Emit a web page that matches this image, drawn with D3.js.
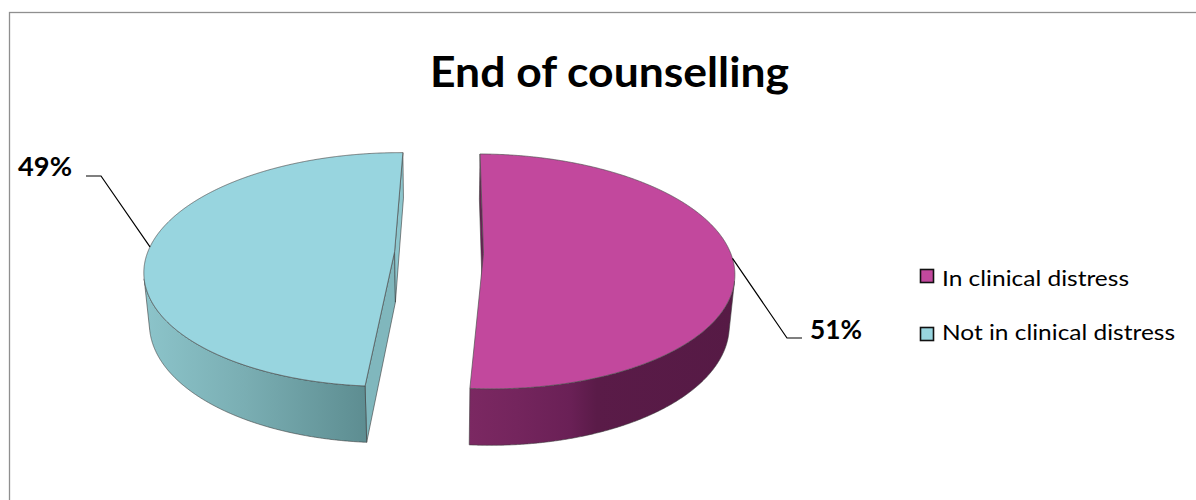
<!DOCTYPE html>
<html>
<head>
<meta charset="utf-8">
<script src="https://cdn.jsdelivr.net/npm/d3@7"></script>
<style>
  html, body { margin: 0; padding: 0; background: #fff; }
  svg { display: block; font-family: Lato, "Open Sans", sans-serif; }
</style>
</head>
<body>
<svg id="chart" width="1196" height="500"></svg>
<script>
// ---- data ----
const title = "End of counselling";
const categories = ["In clinical distress", "Not in clinical distress"];
const values = [51, 49];
const valueLabels = ["51%", "49%"];

// ---- styling ----
const topColors = ["#C2489D", "#98D5DF"];
const wallStops = [
  [[0, "#7B2862"], [0.18, "#74255D"], [0.38, "#6A2056"], [0.48, "#5A1B48"], [1, "#561A45"]],
  [[0, "#8CC4CA"], [0.45, "#7AAEB3"], [1, "#5D8D91"]]
];
const startFaceColors = ["#6B2056", "#80B7BD"];
const endFaceColors = ["#7A2862", "#8DC6CD"];

// 3D pie view: elevated camera with perspective
const view = {
  cx: 439, cy: 252.6,
  R: 247, thick: 58, explode: 44.5,
  elev: 27.6 * Math.PI / 180,
  dist: 1436,
  rot: 0.65 * Math.PI / 180
};
const ce = Math.cos(view.elev), se = Math.sin(view.elev);
const cam = [0, view.dist * ce, view.dist * se];

function project(p) {
  const d = view.dist - (p[1] * ce + p[2] * se);
  const s = view.dist / d;
  const up = -p[1] * se + p[2] * ce;
  return [view.cx + p[0] * s, view.cy - up * s];
}
function facing(n, p) {
  return n[0] * (cam[0] - p[0]) + n[1] * (cam[1] - p[1]) + n[2] * (cam[2] - p[2]) > 0;
}

const svg = d3.select("#chart");
const defs = svg.append("defs");
const line = d3.line();

// chart frame
svg.append("rect")
  .attr("x", 9.5).attr("y", 12.5)
  .attr("width", 1200).attr("height", 500)
  .attr("fill", "none").attr("stroke", "#8f8f8f").attr("stroke-width", 1.3);

// title
svg.append("text")
  .attr("x", 430).attr("y", 87)
  .attr("font-weight", 700).attr("font-size", 42)
  .attr("textLength", 359).attr("lengthAdjust", "spacingAndGlyphs")
  .attr("fill", "#000")
  .text(title);

const pie = d3.pie().sort(null).value(d => d)
  .startAngle(view.rot).endAngle(view.rot + 2 * Math.PI);
const arcs = pie(values);

const sideLayer = svg.append("g");
const topLayer = svg.append("g");
const D = view.thick;

arcs.forEach((a, i) => {
  const mid = (a.startAngle + a.endAngle) / 2;
  const ox = view.explode * Math.sin(mid), oy = -view.explode * Math.cos(mid);
  const rim = (t, z) => [ox + view.R * Math.sin(t), oy - view.R * Math.cos(t), z];
  const ctr = z => [ox, oy, z];

  // radial cut faces
  const faces = [
    { t: a.startAngle, n: [-Math.cos(a.startAngle), -Math.sin(a.startAngle), 0], c: startFaceColors[i] },
    { t: a.endAngle, n: [Math.cos(a.endAngle), Math.sin(a.endAngle), 0], c: endFaceColors[i] }
  ];
  faces.forEach(f => {
    const pts = [ctr(0), rim(f.t, 0), rim(f.t, -D), ctr(-D)];
    const c = [(pts[0][0] + pts[1][0]) / 2, (pts[0][1] + pts[1][1]) / 2, -D / 2];
    if (!facing(f.n, c)) return;
    sideLayer.append("path")
      .attr("d", line(pts.map(project)) + "Z")
      .attr("fill", f.c).attr("stroke", "#3c3c3c").attr("stroke-width", 0.6)
      .attr("stroke-linejoin", "round");
  });

  // outer wall: keep the camera-facing angular runs
  const steps = 720;
  const runs = [];
  let cur = null;
  for (let k = 0; k <= steps; k++) {
    const t = a.startAngle + (a.endAngle - a.startAngle) * k / steps;
    const n = [Math.sin(t), -Math.cos(t), 0];
    const vis = facing(n, rim(t, -D / 2));
    if (vis) { if (!cur) { cur = []; runs.push(cur); } cur.push(t); }
    else cur = null;
  }
  runs.forEach((run, r) => {
    const topPts = run.map(t => project(rim(t, 0)));
    const botPts = run.slice().reverse().map(t => project(rim(t, -D)));
    const all = topPts.concat(botPts);
    const xs = d3.extent(all, p => p[0]);
    const gid = `wall-${i}-${r}`;
    const g = defs.append("linearGradient").attr("id", gid)
      .attr("gradientUnits", "userSpaceOnUse")
      .attr("x1", xs[0]).attr("x2", xs[1]).attr("y1", 0).attr("y2", 0);
    wallStops[i].forEach(s => g.append("stop").attr("offset", s[0]).attr("stop-color", s[1]));
    sideLayer.append("path")
      .attr("d", line(all) + "Z")
      .attr("fill", `url(#${gid})`).attr("stroke", "#3c3c3c").attr("stroke-width", 0.6)
      .attr("stroke-linejoin", "round");
  });

  // top face
  const topPts = [project(ctr(0))];
  for (let k = 0; k <= steps; k++) {
    const t = a.startAngle + (a.endAngle - a.startAngle) * k / steps;
    topPts.push(project(rim(t, 0)));
  }
  topLayer.append("path")
    .attr("d", line(topPts) + "Z")
    .attr("fill", topColors[i]).attr("stroke", "#505050").attr("stroke-width", 0.7)
    .attr("stroke-linejoin", "round");
  a.anchor = project(rim(mid, 0));
});

// data labels with leader lines
const labelLayout = [
  { elbow: [787, 338], end: [802, 338], tx: 810, ty: 339, anchor: "start", w: 52 },
  { elbow: [101, 176], end: [86, 176], tx: 18, ty: 176, anchor: "start", w: 54 }
];
arcs.forEach((a, i) => {
  const L = labelLayout[i];
  svg.append("path")
    .attr("d", line([a.anchor, L.elbow, L.end]))
    .attr("fill", "none").attr("stroke", "#000").attr("stroke-width", 1.2);
  svg.append("text")
    .attr("x", L.tx).attr("y", L.ty)
    .attr("text-anchor", L.anchor)
    .attr("font-weight", 700).attr("font-size", 27)
    .attr("textLength", L.w).attr("lengthAdjust", "spacingAndGlyphs")
    .text(valueLabels[i]);
});

// legend
const legendRows = [
  { box: 269, base: 286, w: 187 },
  { box: 327, base: 340, w: 233 }
];
const legend = svg.append("g").attr("transform", "translate(920,0)");
categories.forEach((c, i) => {
  const L = legendRows[i];
  legend.append("rect")
    .attr("x", 0.5).attr("y", L.box + 0.5).attr("width", 13).attr("height", 13)
    .attr("fill", topColors[i]).attr("stroke", "#111").attr("stroke-width", 1.6);
  legend.append("text")
    .attr("x", 22).attr("y", L.base)
    .attr("font-size", 21)
    .attr("textLength", L.w).attr("lengthAdjust", "spacingAndGlyphs")
    .text(c);
});
</script>
</body>
</html>
